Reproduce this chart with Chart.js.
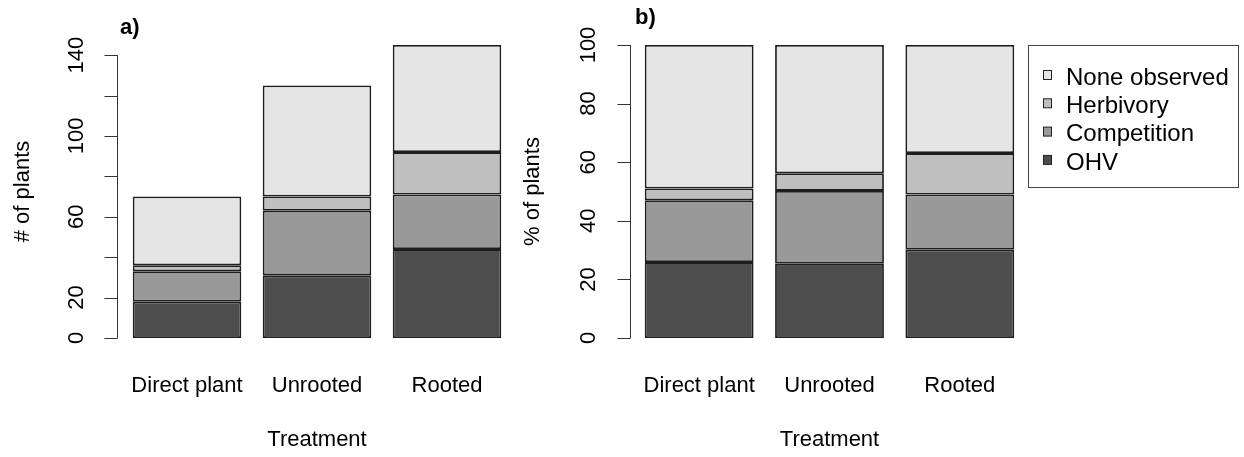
<!DOCTYPE html>
<html>
<head>
<meta charset="utf-8">
<script src="https://cdn.jsdelivr.net/npm/chart.js@4"></script>
<style>
  body { margin: 0; background: #fff; }
  #wrapA { position: absolute; left: 0; top: 0; }
  #wrapB { position: absolute; left: 520px; top: 0; }
</style>
</head>
<body>
<div id="wrapA"><canvas id="chartA" width="520" height="457"></canvas></div>
<div id="wrapB"><canvas id="chartB" width="724" height="457"></canvas></div>
<script>
// data
var categories = ['Direct plant', 'Unrooted', 'Rooted'];
var seriesNames = ['OHV', 'Competition', 'Herbivory', 'None observed'];
var seriesColors = ['#4d4d4d', '#999999', '#bfbfbf', '#e5e5e5'];

// a) number of plants
var ohvCount = [18, 31, 44];
var competitionCount = [15, 32, 27];
var herbivoryCount = [3, 7, 21];
var noneCount = [34, 55, 53];

// b) percent of plants
var ohvPct = [25.9, 25.3, 30.1];
var competitionPct = [21.1, 24.9, 18.9];
var herbivoryPct = [4.0, 6.0, 14.1];
var nonePct = [49.0, 43.8, 36.9];

var countTicks = [0, 20, 40, 60, 80, 100, 120, 140];
var countTickLabels = ['0', '20', '', '60', '', '100', '', '140'];
var pctTicks = [0, 20, 40, 60, 80, 100];
var pctTickLabels = ['0', '20', '40', '60', '80', '100'];

Chart.defaults.font.family = '"Liberation Sans", Arial, sans-serif';
Chart.defaults.font.size = 22;
Chart.defaults.color = '#000';
Chart.defaults.animation = false;

function makeSets(rows) {
  return rows.map(function (vals, i) {
    return {
      label: seriesNames[i],
      data: vals,
      backgroundColor: seriesColors[i],
      borderColor: '#1e1e1e',
      borderWidth: 1.8,
      borderSkipped: false,
      categoryPercentage: 1,
      barPercentage: 0.835
    };
  });
}

// R style axis: line only over tick range, ticks drawn left of a small gap
var rAxis = {
  id: 'rAxis',
  afterDraw: function (chart, args, opts) {
    var ctx = chart.ctx;
    var y = chart.scales.y;
    var x0 = Math.round(chart.chartArea.left - opts.gap) + 0.5;
    ctx.save();
    ctx.strokeStyle = '#333';
    ctx.lineWidth = 1;
    ctx.beginPath();
    ctx.moveTo(x0, y.getPixelForValue(opts.ticks[0]));
    ctx.lineTo(x0, y.getPixelForValue(opts.ticks[opts.ticks.length - 1]));
    opts.ticks.forEach(function (v) {
      var p = Math.round(y.getPixelForValue(v)) + 0.5;
      ctx.moveTo(x0, p);
      ctx.lineTo(x0 - 13, p);
    });
    ctx.stroke();
    ctx.font = 'bold 22px "Liberation Sans", Arial, sans-serif';
    ctx.fillStyle = '#000';
    ctx.textBaseline = 'middle';
    ctx.textAlign = 'left';
    ctx.fillText(opts.tag, opts.tagX, opts.tagY);
    ctx.restore();
  }
};

// boxed legend, top-down like base R
var boxLegend = {
  id: 'boxLegend',
  afterDraw: function (chart, args, opts) {
    if (!opts.show) return;
    var ctx = chart.ctx;
    var sets = chart.data.datasets.slice().reverse();
    ctx.save();
    ctx.strokeStyle = '#444';
    ctx.lineWidth = 1;
    ctx.strokeRect(opts.x + 0.5, opts.y + 0.5, opts.w, opts.h);
    ctx.font = '24px "Liberation Sans", Arial, sans-serif';
    ctx.textBaseline = 'middle';
    ctx.textAlign = 'left';
    sets.forEach(function (ds, i) {
      var cy = opts.y + opts.first + i * opts.step;
      ctx.fillStyle = ds.backgroundColor;
      ctx.fillRect(opts.x + 15.5, cy - 7.5, 8, 9);
      ctx.strokeStyle = '#222';
      ctx.strokeRect(opts.x + 15.5, cy - 7.5, 8, 9);
      ctx.fillStyle = '#000';
      ctx.fillText(ds.label, opts.x + 38, cy);
    });
    ctx.restore();
  }
};

function makeChart(id, rows, yMax, ticks, tickLabels, yTitle, cfg) {
  return new Chart(document.getElementById(id), {
    type: 'bar',
    data: { labels: categories, datasets: makeSets(rows) },
    plugins: [rAxis, boxLegend],
    options: {
      responsive: false,
      layout: { padding: { left: 0, top: 45, right: cfg.padRight, bottom: 0 } },
      plugins: {
        legend: { display: false },
        tooltip: { enabled: false },
        rAxis: { ticks: ticks, gap: cfg.gap, tag: cfg.tag, tagX: cfg.tagX, tagY: cfg.tagY },
        boxLegend: cfg.legend
      },
      scales: {
        x: {
          stacked: true,
          offset: true,
          grid: { display: false, drawTicks: false },
          border: { display: false },
          ticks: { padding: 35, maxRotation: 0, autoSkip: false },
          title: { display: true, text: 'Treatment', padding: { top: 0, bottom: 4 } },
          afterFit: function (s) { s.height = 119; }
        },
        y: {
          stacked: true,
          min: 0,
          max: yMax,
          grid: { display: false, drawTicks: false },
          border: { display: false },
          afterBuildTicks: function (s) {
            s.ticks = ticks.map(function (v) { return { value: v }; });
          },
          ticks: {
            autoSkip: false,
            minRotation: 90,
            maxRotation: 90,
            crossAlign: 'center',
            padding: cfg.tickPad,
            callback: function (v, i) { return tickLabels[i]; }
          },
          title: { display: true, text: yTitle, padding: { top: cfg.titlePad, bottom: 0 } },
          afterFit: function (s) { s.width = cfg.yWidth; }
        }
      }
    }
  });
}

makeChart('chartA',
  [ohvCount, competitionCount, herbivoryCount, noneCount],
  145, countTicks, countTickLabels, '# of plants',
  { padRight: 8, gap: 5, tag: 'a)', tagX: 120, tagY: 28, tickPad: 27, titlePad: 10, yWidth: 122,
    legend: { show: false } });

makeChart('chartB',
  [ohvPct, competitionPct, herbivoryPct, nonePct],
  100, pctTicks, pctTickLabels, '% of plants',
  { padRight: 219, gap: 4, tag: 'b)', tagX: 115, tagY: 18, tickPad: 27, titlePad: 0, yWidth: 114,
    legend: { show: true, x: 508, y: 45, w: 210, h: 142, first: 33, step: 28.3 } });
</script>
</body>
</html>
